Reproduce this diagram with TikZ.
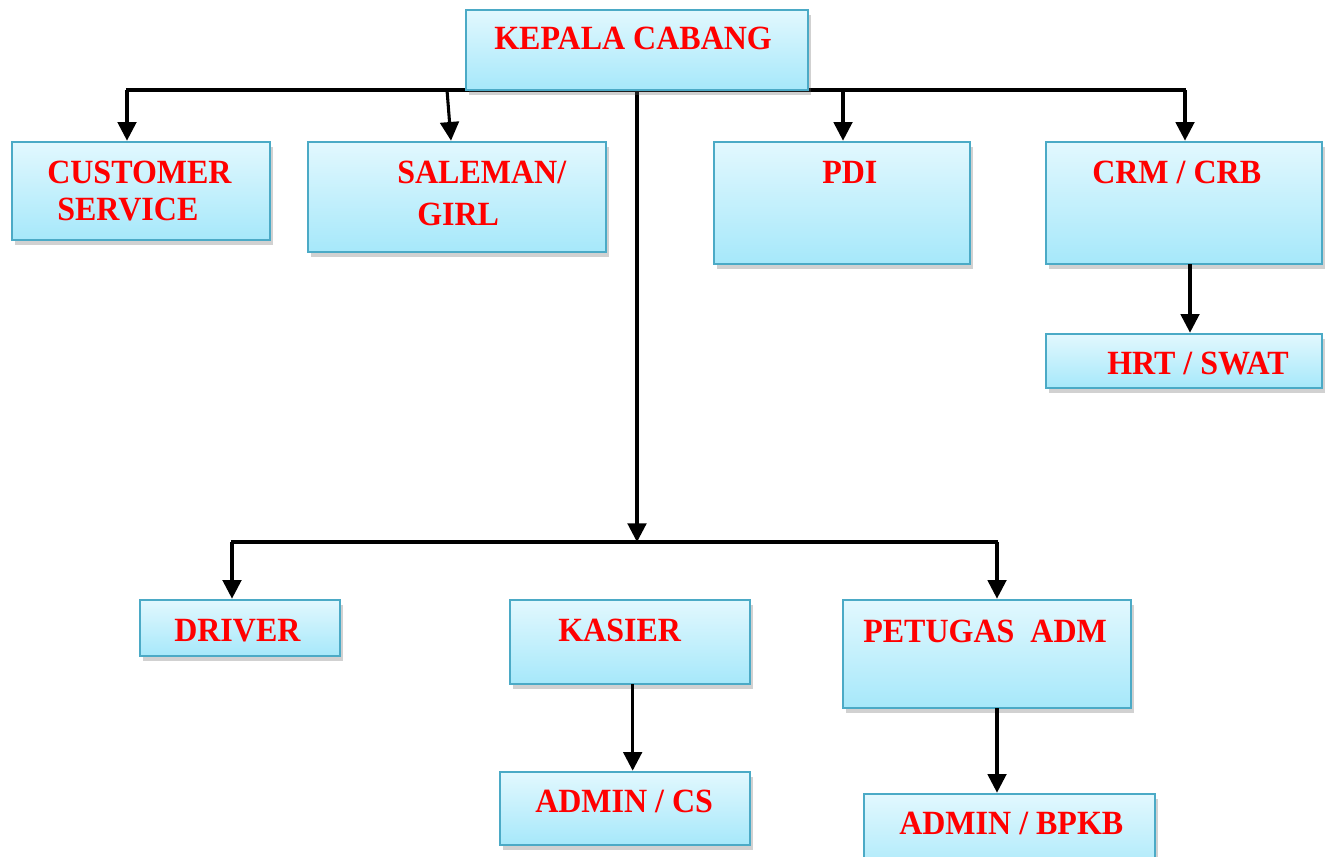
\documentclass[tikz,border=0pt]{standalone}
\usepackage{graphicx}
\usepackage{fontspec}
\setmainfont{Liberation Serif}
\usetikzlibrary{shadows,arrows.meta,calc}
\definecolor{boxtop}{RGB}{226,248,254}
\definecolor{boxbot}{RGB}{166,232,250}
\definecolor{boxline}{RGB}{75,170,198}
\definecolor{txtred}{RGB}{255,0,0}
\newcommand{\orgbx}[5]{\node[orgbox,minimum width={(#4-#2)*0.75pt},minimum height={(#5-#3)*0.75pt}] (#1) at ({(#2+#4)/2},{(#3+#5)/2}) {};}
\newcommand{\tall}[1]{\scalebox{1}[1.06]{#1}}
\begin{document}
\begin{tikzpicture}[x=0.75pt,y=-0.75pt,
  orgbox/.style={draw=boxline,line width=1.3pt,top color=boxtop,bottom color=boxbot,
    inner sep=0pt,outer sep=0pt,
    drop shadow={shadow xshift=2.5pt,shadow yshift=-3.5pt,opacity=0.3,fill=black!60}},
  lbl/.style={anchor=base west,inner sep=0pt,text=txtred,font=\fontsize{24}{28}\selectfont\bfseries},
  ln/.style={line width=2.3pt,black},
  arr/.style={line width=2.3pt,black,-{Triangle[width=14pt,length=14pt]}}]
\useasboundingbox (0,0) rectangle (1333,856);
\clip (0,0) rectangle (1333,856);
% boxes
\orgbx{cs}{12}{142}{270}{240}
\orgbx{sl}{308}{142}{606}{252}
\orgbx{pdi}{714}{142}{970}{264}
\orgbx{crm}{1046}{142}{1322}{264}
\orgbx{hrt}{1046}{334}{1322}{388}
\orgbx{drv}{140}{600}{340}{656}
\orgbx{kas}{510}{600}{750}{684}
\orgbx{pet}{843}{600}{1131}{708}
\orgbx{acs}{500}{772}{750}{845}
\orgbx{bpk}{864}{794}{1155}{880}
% junctions
\coordinate (h1) at (127,90);
\coordinate (h2) at (447,90);
\coordinate (h3) at (843,90);
\coordinate (h4) at (1185,90);
\coordinate (m) at (637,542);
\coordinate (b1) at (232,542);
\coordinate (b3) at (997,542);
\coordinate (c1) at (1190,0);
% connectors
\draw[ln] ([xshift=-0.9pt]h1) -- ([xshift=0.9pt]h4);
\draw[arr] (h1) -- ([yshift=1pt]h1 |- cs.north);
\draw[arr] (h2) -- ([xshift=3pt,yshift=1pt]h2 |- sl.north);
\draw[arr] (h3) -- ([yshift=1pt]h3 |- pdi.north);
\draw[arr] (h4) -- ([yshift=1pt]h4 |- crm.north);
\draw[arr] (m |- h1) -- (m);
\draw[ln] ([xshift=-0.9pt]b1) -- ([xshift=0.9pt]b3);
\draw[arr] (b1) -- ([yshift=1pt]b1 |- drv.north);
\draw[arr] (b3) -- ([yshift=1pt]b3 |- pet.north);
\draw[arr] (c1 |- crm.south) -- ([yshift=1pt]c1 |- hrt.north);
\draw[arr] ([xshift=2pt]kas.south) -- ([yshift=1pt,xshift=2pt]kas.south |- acs.north);
\draw[arr] (b3 |- pet.south) -- ([yshift=1pt]b3 |- bpk.north);
% top box drawn last over line
\orgbx{k}{466}{10}{808}{90}
% labels
\node[lbl] (tk) at (494,50) {\tall{KEPALA CABANG}};
\node[lbl] (tcs1) at (47,183) {\tall{CUSTOMER}};
\node[lbl] (tcs2) at (57,220) {\tall{SERVICE}};
\node[lbl] (tsl1) at (397,183) {\tall{SALEMAN/}};
\node[lbl] (tsl2) at (417,225) {\tall{GIRL}};
\node[lbl] (tpdi) at (822,183) {\tall{PDI}};
\node[lbl] (tcrm) at (1092,183) {\tall{CRM / CRB}};
\node[lbl] (thrt) at (1107,374) {\tall{HRT / SWAT}};
\node[lbl] (tdrv) at (174,641) {\tall{DRIVER}};
\node[lbl] (tkas) at (558,641) {\tall{KASIER}};
\node[lbl] (tpet) at (863,642) {\tall{PETUGAS\ \ ADM}};
\node[lbl] (tacs) at (535,812) {\tall{ADMIN / CS}};
\node[lbl] (tbpk) at (899,834) {\tall{ADMIN / BPKB}};
\end{tikzpicture}
\end{document}
